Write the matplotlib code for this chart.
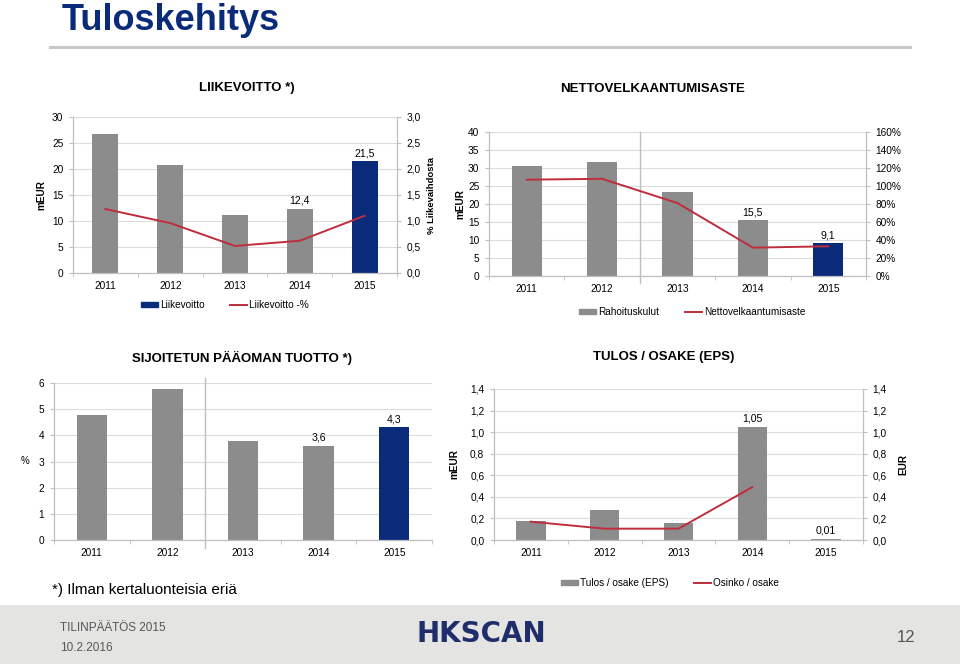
import numpy as np
import matplotlib
matplotlib.use('Agg')
import matplotlib.pyplot as plt
import matplotlib.ticker as mticker
from matplotlib.patches import Rectangle, Patch
from matplotlib.lines import Line2D

plt.rcParams['font.family'] = ['Liberation Sans', 'DejaVu Sans']

years = ['2011', '2012', '2013', '2014', '2015']

# LIIKEVOITTO
liikevoitto = [26.8, 20.7, 11.1, 12.4, 21.5]
liikevoitto_pct = [1.23, 0.96, 0.52, 0.62, 1.10]

# NETTOVELKAANTUMISASTE
rahoituskulut = [30.6, 31.6, 23.4, 15.5, 9.1]
nettovelka_pct = [107, 108, 81, 31.5, 33]

# SIJOITETUN PÄÄOMAN TUOTTO
roi = [4.77, 5.76, 3.80, 3.6, 4.3]

# TULOS / OSAKE
eps = [0.18, 0.28, 0.16, 1.05, 0.01]
osinko = [0.17, 0.105, 0.105, 0.49]

GREY = '#8c8c8c'
NAVY = '#0a2a7a'
RED = '#be2d3c'
AXC = '#bfbfbf'
W, H = 960, 664
TICK = 7.3

fig = plt.figure(figsize=(W / 100, H / 100), dpi=100)


def px_axes(x0, y0, x1, y1):
    return fig.add_axes([x0 / W, 1 - y1 / H, (x1 - x0) / W, (y1 - y0) / H])


def ftext(x, y, s, **kw):
    return fig.text(x / W, 1 - y / H, s, **kw)


def comma(fmt):
    return mticker.FuncFormatter(lambda v, p: fmt.format(v).replace('.', ','))


def style(ax, ymax, step, fmt):
    ax.set_xlim(-0.5, 4.5)
    ax.set_ylim(0, ymax)
    ax.yaxis.set_major_locator(mticker.MultipleLocator(step))
    ax.yaxis.set_major_formatter(comma(fmt))
    ax.grid(axis='y', color='#dcdcdc', lw=0.8)
    ax.set_axisbelow(True)
    for s in ['top', 'right']:
        ax.spines[s].set_visible(False)
    for s in ['left', 'bottom']:
        ax.spines[s].set_color(AXC)
        ax.spines[s].set_linewidth(0.9)
    ax.set_xticks(range(5))
    ax.set_xticklabels(years)
    ax.set_xticks(np.arange(-0.5, 5, 1), minor=True)
    ax.tick_params(axis='x', which='major', length=0, labelsize=TICK, pad=6)
    ax.tick_params(axis='x', which='minor', length=3, color=AXC)
    ax.tick_params(axis='y', length=3, color=AXC, labelsize=TICK, pad=4)


def twin(ax, ymax, step, fmt):
    ax2 = ax.twinx()
    ax2.set_ylim(0, ymax)
    ax2.yaxis.set_major_locator(mticker.MultipleLocator(step))
    ax2.yaxis.set_major_formatter(fmt)
    for s in ['top', 'left', 'bottom']:
        ax2.spines[s].set_visible(False)
    ax2.spines['right'].set_color(AXC)
    ax2.spines['right'].set_linewidth(0.9)
    ax2.tick_params(axis='y', length=3, color=AXC, labelsize=TICK, pad=4)
    return ax2


def bars(ax, vals, navy_last=True, labels=(), fmt='{:.1f}'):
    x = np.arange(len(vals))
    cols = [GREY] * len(vals)
    if navy_last:
        cols[-1] = NAVY
    b = ax.bar(x, vals, width=0.4, color=cols)
    off = ax.get_ylim()[1] * 0.02
    for i in labels:
        ax.text(x[i], vals[i] + off, fmt.format(vals[i]).replace('.', ','),
                ha='center', va='bottom', fontsize=7.6)
    return b


def legend(handles, cx, cy):
    fig.legend(handles=handles, loc='center', bbox_to_anchor=(cx / W, 1 - cy / H),
               ncol=2, frameon=False, fontsize=7.2, handlelength=1.7,
               handleheight=0.45, columnspacing=2.6, handletextpad=0.2)


# --- slide title
ftext(62, 20, 'Tuloskehitys', fontsize=26, fontweight='bold', color=NAVY,
      va='center', ha='left')
fig.add_artist(Line2D([50 / W, 910 / W], [1 - 47 / H] * 2, color='#c8c8c8',
                      lw=2.2, transform=fig.transFigure))

# --- LIIKEVOITTO
ftext(247, 88, 'LIIKEVOITTO *)', fontsize=9.5, fontweight='bold', ha='center', va='center')
ax1 = px_axes(73, 117, 397, 273)
style(ax1, 30, 5, '{:.0f}')
bars(ax1, liikevoitto, labels=(3, 4))
ax1.set_ylabel('mEUR', fontsize=7.2, fontweight='bold', labelpad=4)
ax1b = twin(ax1, 3, 0.5, comma('{:.1f}'))
ax1b.plot(range(5), liikevoitto_pct, color=RED, lw=1.4)
ax1b.set_ylabel('% Liikevaihdosta', fontsize=6.8, fontweight='bold',
                rotation=90, labelpad=4)
legend([Patch(color=NAVY, label='Liikevoitto'),
        Line2D([], [], color=RED, lw=1.4, label='Liikevoitto -%')], 225, 305)

# --- NETTOVELKAANTUMISASTE
ftext(653, 89, 'NETTOVELKAANTUMISASTE', fontsize=9.5, fontweight='bold',
      ha='center', va='center')
ax2 = px_axes(489, 132, 866, 276)
style(ax2, 40, 5, '{:.0f}')
bars(ax2, rahoituskulut, labels=(3, 4))
ax2.axvline(1.5, ymin=-0.05, ymax=1.0, color=AXC, lw=1.0, clip_on=False)
ax2.set_ylabel('mEUR', fontsize=7.2, fontweight='bold', labelpad=2)
ax2b = twin(ax2, 160, 20, mticker.FuncFormatter(lambda v, p: f'{v:.0f}%'))
ax2b.plot(range(5), nettovelka_pct, color=RED, lw=1.4)
legend([Patch(color=GREY, label='Rahoituskulut'),
        Line2D([], [], color=RED, lw=1.4, label='Nettovelkaantumisaste')], 692, 312)

# --- SIJOITETUN PÄÄOMAN TUOTTO
ftext(242, 358, 'SIJOITETUN PÄÄOMAN TUOTTO *)', fontsize=9.5, fontweight='bold',
      ha='center', va='center')
ax3 = px_axes(54, 383, 432, 540)
style(ax3, 6, 1, '{:.0f}')
bars(ax3, roi, labels=(3, 4))
ax3.axvline(1.5, ymin=-0.05, ymax=1.03, color=AXC, lw=1.0, clip_on=False)
ax3.set_ylabel('%', fontsize=7, rotation=0, labelpad=10, va='center')

ftext(52, 590, '*) Ilman kertaluonteisia eriä', fontsize=11, ha='left', va='center')

# --- TULOS / OSAKE
ftext(664, 357, 'TULOS / OSAKE (EPS)', fontsize=9.5, fontweight='bold',
      ha='center', va='center')
ax4 = px_axes(494, 389, 863, 540)
style(ax4, 1.4, 0.2, '{:.1f}')
bars(ax4, eps, navy_last=False, labels=(3, 4), fmt='{:.2f}')
ax4.set_ylabel('mEUR', fontsize=7.2, fontweight='bold', labelpad=8)
ax4b = twin(ax4, 1.4, 0.2, comma('{:.1f}'))
ax4b.plot(range(len(osinko)), osinko, color=RED, lw=1.4)
ax4b.set_ylabel('EUR', fontsize=7.2, fontweight='bold', rotation=90, labelpad=8)
legend([Patch(color=GREY, label='Tulos / osake (EPS)'),
        Line2D([], [], color=RED, lw=1.4, label='Osinko / osake')], 670, 583)

# --- footer
fig.add_artist(Rectangle((0, 0), 1, 59 / H, facecolor='#e4e4e2', edgecolor='none',
                         transform=fig.transFigure, zorder=-1))
ftext(60, 628, 'TILINPÄÄTÖS 2015', fontsize=8.5, color='#555555', va='center')
ftext(60, 648, '10.2.2016', fontsize=8.5, color='#555555', va='center')
ftext(481, 634, 'HKSCAN', fontsize=20, fontweight='bold', color='#1f2d6b',
      family='DejaVu Sans', ha='center', va='center')
ftext(915, 637, '12', fontsize=12, color='#555555', ha='right', va='center')

fig.savefig('out.png', dpi=100)
